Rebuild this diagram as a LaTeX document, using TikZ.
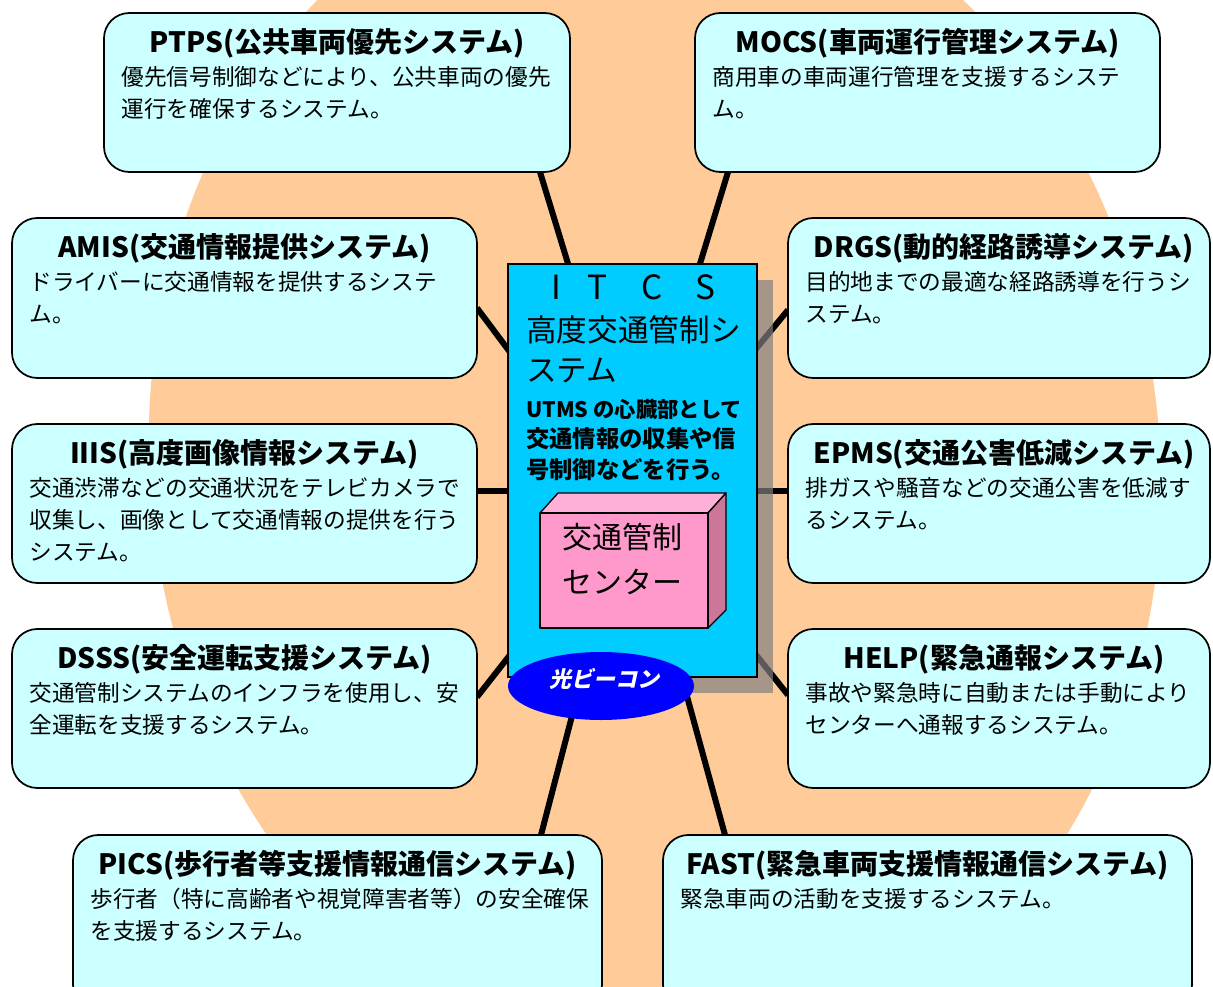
\documentclass[tikz,border=0pt]{standalone}
\usepackage{fontspec}
\setmainfont{Noto Sans CJK JP}
\newfontfamily\beaconfont[FakeSlant=0.22]{Noto Sans CJK JP}
\usetikzlibrary{calc,fit,shapes.geometric}
\definecolor{peach}{HTML}{FFCC99}
\definecolor{boxfill}{HTML}{CCFFFF}
\definecolor{itcsfill}{HTML}{00CCFF}
\definecolor{pinkfront}{HTML}{FF99CC}
\definecolor{pinktop}{HTML}{FFB0D8}
\definecolor{pinkside}{HTML}{CC7799}
\definecolor{beaconblue}{HTML}{0000FF}
\definecolor{shadowgray}{HTML}{808080}
\newcommand\toplines[1]{\begin{tabular}[t]{@{}l@{}}#1\end{tabular}}
\newcommand\mkbox[8]{%
  \node[sysbox, fit={(#2,#3) (#4,#5)}] (#1) {};
  \node[ttl] (#1T) at ($(#1.north)+(#8,40)$) {#6};
  \node[body] (#1B) at ($(#1.north west)+(18,73.5)$) {\toplines{#7}};
}
\begin{document}
\begin{tikzpicture}[x=0.75pt,y=-0.75pt,
  sysbox/.style={draw=black,line width=1.3pt,fill=boxfill,rounded corners=19pt,inner sep=0pt},
  ttl/.style={anchor=base,inner sep=0pt,font=\bfseries\fontsize{21}{24}\selectfont},
  body/.style={anchor=base west,inner sep=0pt,font=\fontsize{17}{24}\selectfont},
  conn/.style={line width=4.5pt,draw=black},
  cubeface/.style={draw=black,line width=1pt,line join=round}]
\useasboundingbox (0,0) rectangle (1213,987);
\clip (0,0) rectangle (1213,987);
% background
\fill[peach, rotate around={6:(655,465)}] (655,465) ellipse [x radius=505, y radius=605];
% connector end points
\coordinate (ptpsE) at (540,172);  \coordinate (ptpsI) at (631,470);
\coordinate (mocsE) at (728,172);  \coordinate (mocsI) at (637,470);
\coordinate (amisE) at (477,308);  \coordinate (amisI) at (598,470);
\coordinate (drgsE) at (788,310);  \coordinate (drgsI) at (656,470);
\coordinate (iiisE) at (477,491);  \coordinate (iiisI) at (632,491);
\coordinate (epmsE) at (788,491);  \coordinate (epmsI) at (632,491);
\coordinate (dsssE) at (477,697);  \coordinate (dsssI) at (655,470);
\coordinate (helpE) at (788,695);  \coordinate (helpI) at (609,470);
\coordinate (picsE) at (541,835);  \coordinate (picsI) at (636,470);
\coordinate (fastE) at (725,835);  \coordinate (fastI) at (625,470);
\foreach \n in {ptps,mocs,amis,drgs,iiis,epms,dsss,help,pics,fast}
  \draw[conn] (\n E) -- (\n I);
% shadow and ITCS box
\fill[shadowgray, opacity=0.7] (524,280) rectangle (773,693);
\node[fit={(508,264) (757,677)}, inner sep=0pt, draw=black, line width=1pt, fill=itcsfill] (itcs) {};
\node[anchor=base west, inner sep=0pt, font=\fontsize{25}{30}\selectfont] (itcsL) at (551,300)
  {I\hspace{20pt}T\hspace{25pt}C\hspace{25pt}S};
\node[anchor=base west, inner sep=0pt, font=\fontsize{23}{30}\selectfont] (itcsH) at (526,342)
  {\toplines{高度交通管制シ\\ステム}};
\node[anchor=base west, inner sep=0pt, font=\bfseries\fontsize{17.5}{23}\selectfont] (itcsD) at (526,417)
  {\toplines{{\fontsize{16}{23}\selectfont UTMS の心臓部として}\\交通情報の収集や信\\号制御などを行う。}};
% traffic control centre cube
\fill[pinktop, cubeface] (540,513) -- (558,493) -- (726,493) -- (708,513) -- cycle;
\fill[pinkside, cubeface] (708,513) -- (726,493) -- (726,610) -- (708,628) -- cycle;
\node[fit={(540,513) (708,628)}, inner sep=0pt, cubeface, fill=pinkfront] (kanri) {};
\node[anchor=base west, inner sep=0pt, font=\fontsize{22.5}{34}\selectfont] (kanriT) at (562,548)
  {\toplines{交通管制\\センター}};
% optical beacon
\node[ellipse, fill=beaconblue, minimum width=139.5pt, minimum height=51pt, inner sep=0pt] (beacon) at (601,686) {};
\node[inner sep=0pt, text=white, font=\beaconfont\bfseries\fontsize{16.5}{20}\selectfont] (beaconT) at (604,679) {光ビーコン};
% system boxes
\mkbox{ptps}{104}{13}{570}{172}{PTPS(公共車両優先システム)}{優先信号制御などにより、公共車両の優先\\運行を確保するシステム。}{0}
\mkbox{mocs}{695}{13}{1160}{172}{MOCS(車両運行管理システム)}{商用車の車両運行管理を支援するシステ\\ム。}{0}
\mkbox{amis}{12}{218}{477}{378}{AMIS(交通情報提供システム)}{ドライバーに交通情報を提供するシステ\\ム。}{0}
\mkbox{drgs}{788}{218}{1210}{378}{DRGS(動的経路誘導システム)}{目的地までの最適な経路誘導を行うシ\\ステム。}{5}
\mkbox{iiis}{12}{424}{477}{583}{IIIS(高度画像情報システム)}{交通渋滞などの交通状況をテレビカメラで\\収集し、画像として交通情報の提供を行う\\システム。}{0}
\mkbox{epms}{788}{424}{1210}{583}{EPMS(交通公害低減システム)}{排ガスや騒音などの交通公害を低減す\\るシステム。}{5}
\mkbox{dsss}{12}{629}{477}{788}{DSSS(安全運転支援システム)}{交通管制システムのインフラを使用し、安\\全運転を支援するシステム。}{0}
\mkbox{help}{788}{629}{1210}{788}{HELP(緊急通報システム)}{事故や緊急時に自動または手動により\\センターへ通報するシステム。}{5}
\mkbox{pics}{73}{835}{602}{1010}{PICS(歩行者等支援情報通信システム)}{歩行者（特に高齢者や視覚障害者等）の安全確保\\を支援するシステム。}{0}
\mkbox{fast}{663}{835}{1192}{1010}{FAST(緊急車両支援情報通信システム)}{緊急車両の活動を支援するシステム。}{0}
\end{tikzpicture}
\end{document}
